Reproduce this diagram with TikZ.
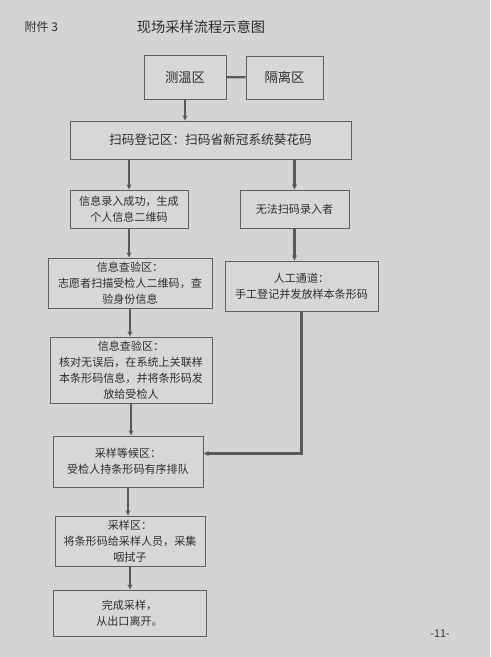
\documentclass[tikz,border=0pt]{standalone}
\usepackage{fontspec}
\setmainfont{Noto Sans CJK SC}
\usepackage{xcolor}
\usepackage{tikz}
\usetikzlibrary{arrows.meta,positioning}

\definecolor{papel}{RGB}{212,212,210}
\definecolor{moldura}{RGB}{95,95,95}
\definecolor{tinta}{RGB}{45,45,45}

\begin{document}
\begin{tikzpicture}[
    x=0.75pt, y=-0.75pt,
    quyu/.style={draw=moldura, line width=0.7pt, fill=papel!92!white, align=center,
        text=tinta, font=\fontsize{8.3}{12}\selectfont, inner sep=1pt},
    lianxian/.style={draw=black!65, line width=1.6pt},
    liuxiang/.style={lianxian, -{Stealth[length=1.4mm, width=1.3mm]}}
]
    \fill[papel] (0,0) rectangle (490,657);

    \node[text=tinta, font=\fontsize{9}{11}\selectfont, anchor=west] (fujian) at (20,27) {附件 3};
    \node[text=tinta, font=\fontsize{10.7}{13}\selectfont] (biaoti) at (201,27) {现场采样流程示意图};

    \node[quyu, minimum width=82*0.75pt, minimum height=44*0.75pt, font=\fontsize{10}{12}\selectfont] (cewen) at (185,77) {测温区};
    \node[quyu, minimum width=77*0.75pt, minimum height=43*0.75pt, font=\fontsize{10}{12}\selectfont] (geli) at (284.5,77.5) {隔离区};
    \node[quyu, minimum width=281*0.75pt, minimum height=38*0.75pt, font=\fontsize{9.5}{12}\selectfont] (saoma) at (210.5,140) {扫码登记区：扫码省新冠系统葵花码};
    \node[quyu, minimum width=118*0.75pt, minimum height=38*0.75pt] (luru) at (129,209) {信息录入成功，生成\\个人信息二维码};
    \node[quyu, minimum width=109*0.75pt, minimum height=38*0.75pt] (wufa) at (294.5,209) {无法扫码录入者};
    \node[quyu, minimum width=164*0.75pt, minimum height=50*0.75pt] (chayan) at (130,283) {信息查验区：\\志愿者扫描受检人二维码，查\\验身份信息};
    \node[quyu, minimum width=153*0.75pt, minimum height=50*0.75pt] (rengong) at (301.5,286) {人工通道：\\手工登记并发放样本条形码};
    \node[quyu, minimum width=162*0.75pt, minimum height=66*0.75pt] (hedui) at (131,370) {信息查验区：\\核对无误后，在系统上关联样\\本条形码信息，并将条形码发\\放给受检人};
    \node[quyu, minimum width=150*0.75pt, minimum height=51*0.75pt] (denghou) at (128,461.5) {采样等候区：\\受检人持条形码有序排队};
    \node[quyu, minimum width=150*0.75pt, minimum height=50*0.75pt] (caiyang) at (130,541) {采样区：\\将条形码给采样人员，采集\\咽拭子};
    \node[quyu, minimum width=153*0.75pt, minimum height=46*0.75pt] (wancheng) at (129.5,613) {完成采样，\\从出口离开。};

    \node[text=tinta, font=\fontsize{8}{10}\selectfont] (yema) at (440,634) {-11-};

    \draw[lianxian] (cewen) -- (geli);
    \draw[liuxiang] (cewen) -- (cewen |- saoma.north);
    \draw[liuxiang] (saoma.south -| luru) -- (luru);
    \draw[liuxiang] (saoma.south -| wufa) -- (wufa);
    \draw[liuxiang] (luru) -- (luru |- chayan.north);
    \draw[liuxiang] (wufa) -- (wufa |- rengong.north);
    \draw[liuxiang] (chayan) -- (chayan |- hedui.north);
    \draw[liuxiang] (hedui) -- (hedui |- denghou.north);
    \draw[liuxiang] (rengong) |- ([yshift=6pt]denghou.east);
    \draw[liuxiang] (denghou) -- (denghou |- caiyang.north);
    \draw[liuxiang] (caiyang) -- (caiyang |- wancheng.north);
\end{tikzpicture}
\end{document}
